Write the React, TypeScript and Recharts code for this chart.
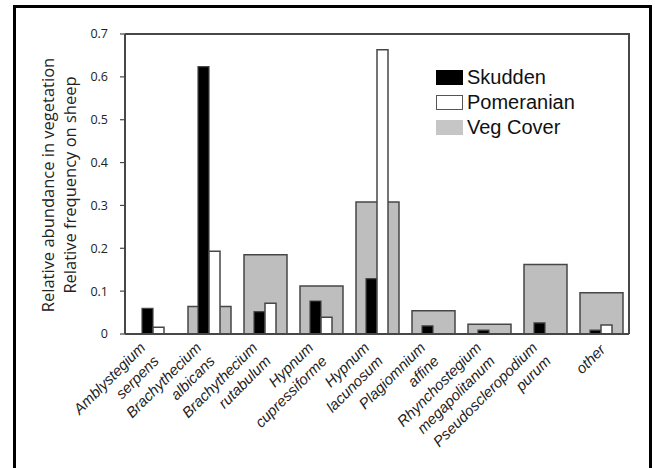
import React from 'react';
import { BarChart, Bar, XAxis, YAxis, Legend } from 'recharts';

const categories = [
  'Amblystegium serpens',
  'Brachythecium albicans',
  'Brachythecium rutabulum',
  'Hypnum cupressiforme',
  'Hypnum lacunosum',
  'Plagiomnium affine',
  'Rhynchostegium megapolitanum',
  'Pseudoscleropodium purum',
  'other',
];
const skudden = [0.06, 0.624, 0.052, 0.077, 0.129, 0.019, 0.009, 0.026, 0.009];
const pomeranian = [0.016, 0.193, 0.072, 0.039, 0.663, 0, 0, 0, 0.021];
const vegCover = [0, 0.064, 0.185, 0.112, 0.308, 0.054, 0.023, 0.162, 0.096];
const yTicks = [0, 0.1, 0.2, 0.3, 0.4, 0.5, 0.6, 0.7];
const legendNames = ['Skudden', 'Pomeranian', 'Veg Cover'];
const yLabelLines = ['Relative abundance in vegetation', 'Relative frequency on sheep'];

const data = categories.map((name, i) => ({
  name,
  skudden: skudden[i],
  pomeranian: pomeranian[i],
  veg: vegCover[i],
}));

const EDGE = '#474747';
const VEG_FILL = '#bebebe';

const CHART_W = 655;
const CHART_H = 468;
const MARGIN = { top: 34, right: 26, bottom: 0, left: 0 };
const Y_AXIS_W = 125;
const X_AXIS_H = 134;

const legendStyles = [
  { background: '#000', border: '1px solid #000' },
  { background: '#fff', border: '1.5px solid #555' },
  { background: '#c6c6c6', border: 'none' },
];

const XTick = (props: any) => {
  const { x, y, payload } = props;
  const lines = String(payload.value).split(' ');
  const n = lines.length;
  return (
    <g transform={`translate(${x},${y}) rotate(-45)`}>
      <text
        textAnchor="end"
        fontFamily="'Liberation Sans', Arial, sans-serif"
        fontStyle="italic"
        fontSize={15}
        fill="#222"
      >
        {lines.map((l, i) => (
          <tspan key={i} x={n === 1 ? -8 : -15} y={n === 1 ? 15.5 : 5.6 + i * 19}>
            {l}
          </tspan>
        ))}
      </text>
    </g>
  );
};

const YLabel = (props: any) => {
  const vb = props.viewBox || { x: 0, y: 34, width: 125, height: 300 };
  const cy = vb.y + vb.height / 2 + 1;
  const xs = [vb.x + 53.5, vb.x + 75.5];
  return (
    <g>
      {yLabelLines.map((t, i) => (
        <text
          key={i}
          x={xs[i]}
          y={cy}
          transform={`rotate(-90, ${xs[i]}, ${cy})`}
          textAnchor="middle"
          fontFamily="'Open Sans', sans-serif"
          fontSize={16.5}
          fill="#222"
        >
          {t}
        </text>
      ))}
    </g>
  );
};

const LegendContent = () => (
  <div style={{ fontFamily: "'Liberation Sans', Arial, sans-serif", fontSize: 20, color: '#111' }}>
    {legendNames.map((n, i) => (
      <div key={n} style={{ display: 'flex', alignItems: 'center', height: 25 }}>
        <span
          style={{
            display: 'inline-block',
            width: 27,
            height: 15,
            boxSizing: 'border-box',
            ...legendStyles[i],
          }}
        />
        <span style={{ marginLeft: 4, lineHeight: '25px' }}>{n}</span>
      </div>
    ))}
  </div>
);

export default function App() {
  const plotLeft = MARGIN.left + Y_AXIS_W;
  const plotTop = MARGIN.top;
  const plotW = CHART_W - MARGIN.right - plotLeft;
  const plotH = CHART_H - MARGIN.bottom - X_AXIS_H - plotTop;
  return (
    <div
      style={{
        position: 'absolute',
        left: 0,
        top: 0,
        width: CHART_W,
        height: CHART_H,
        overflow: 'hidden',
        background: '#fff',
      }}
    >
      <div
        style={{
          position: 'absolute',
          left: 13,
          top: 5,
          width: 639,
          height: 520,
          border: '3px solid #000',
          boxSizing: 'border-box',
        }}
      />
      <div style={{ position: 'absolute', left: 0, top: 0 }}>
        <BarChart
          width={CHART_W}
          height={CHART_H}
          data={data}
          margin={MARGIN}
          barGap={0}
        >
          <XAxis xAxisId="sheep" dataKey="name" hide height={0} />
          <XAxis
            xAxisId="veg"
            dataKey="name"
            height={X_AXIS_H}
            tick={<XTick />}
            tickLine={false}
            tickSize={0}
            tickMargin={0}
            interval={0}
            axisLine={{ stroke: EDGE, strokeWidth: 2 }}
          />
          <YAxis
            domain={[0, 0.7]}
            ticks={yTicks}
            width={Y_AXIS_W}
            tickSize={5}
            tickMargin={12}
            interval={0}
            tickFormatter={(v: number) => (v === 0 ? '0' : v.toFixed(1))}
            tick={{ fontFamily: "'Open Sans', sans-serif", fontSize: 12.5, fill: '#222' }}
            tickLine={{ stroke: EDGE, strokeWidth: 1.2 }}
            axisLine={{ stroke: EDGE, strokeWidth: 2 }}
            label={<YLabel />}
          />
          <Legend
            layout="horizontal"
            verticalAlign="middle"
            align="center"
            content={<LegendContent />}
            wrapperStyle={{ left: 436, top: 64.5, width: 160, height: 76 }}
          />
          <Bar
            xAxisId="veg"
            dataKey="veg"
            name="Veg Cover"
            fill={VEG_FILL}
            stroke={EDGE}
            strokeWidth={1.5}
            barSize={43}
            isAnimationActive={false}
          />
          <Bar
            xAxisId="sheep"
            dataKey="skudden"
            name="Skudden"
            fill="#000"
            stroke={EDGE}
            strokeWidth={1.2}
            barSize={11}
            isAnimationActive={false}
          />
          <Bar
            xAxisId="sheep"
            dataKey="pomeranian"
            name="Pomeranian"
            fill="#fff"
            stroke={EDGE}
            strokeWidth={1.5}
            barSize={11}
            isAnimationActive={false}
          />
        </BarChart>
      </div>
      <div
        style={{
          position: 'absolute',
          left: plotLeft,
          top: plotTop - 1,
          width: plotW + 1,
          height: plotH + 1,
          borderTop: `2px solid ${EDGE}`,
          borderRight: `2px solid ${EDGE}`,
          boxSizing: 'border-box',
          pointerEvents: 'none',
        }}
      />
    </div>
  );
}
